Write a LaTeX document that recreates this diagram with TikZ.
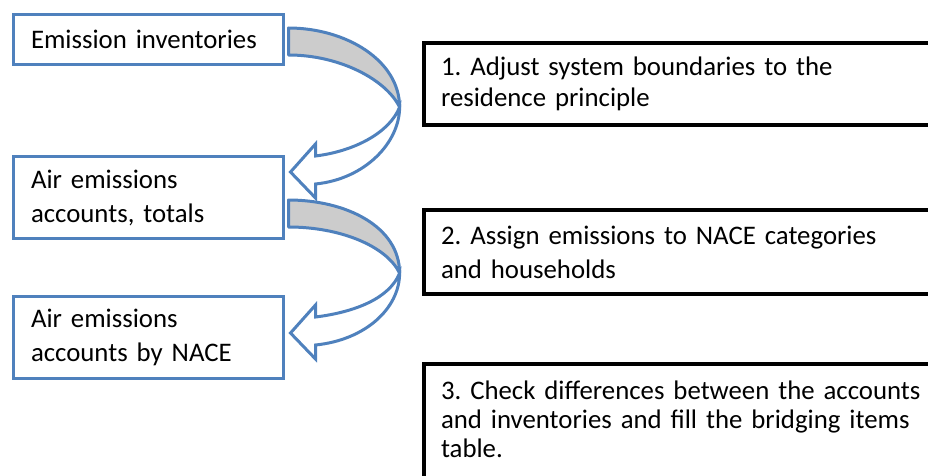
\documentclass[tikz,border=0pt]{standalone}
\usepackage{fontspec}
\setmainfont{Carlito}
\frenchspacing
\usetikzlibrary{calc}
\definecolor{boxblue}{RGB}{79,129,189}
\definecolor{ribbongray}{RGB}{204,204,204}
\tikzset{
  leftbox/.style={draw=boxblue,line width=3pt,fill=white,outer sep=0pt,
    text width=234pt,inner xsep=18pt,align=left,font=\fontsize{26.8}{34}\selectfont},
  stepbox/.style={draw=black,line width=4pt,fill=white,outer sep=0pt,anchor=west,
    text width=500pt,inner xsep=17pt,align=left,font=\fontsize{26.8}{34}\selectfont},
  arrowback/.style={draw=boxblue,line width=3pt,fill=ribbongray,line join=round},
  arrowfront/.style={draw=boxblue,line width=3pt,fill=white,line join=miter}
}
% twisted block arrow: #1 = upper corner of the ribbon start, #2 = tip
\newcommand{\twistarrow}[2]{%
  \coordinate (tw) at ($(#1)!0.55!(#2)+(110,0)$);
  \filldraw[arrowback] (#1) .. controls +(57,0) and +(0,-47) .. (tw)
    .. controls +(-13,-27) and +(52,0) .. ($(#1)+(0,27)$) -- cycle;
  \filldraw[arrowfront] (tw) .. controls +(0,35) and +(50,-5) .. ($(#2)+(25,12)$)
    -- ($(#2)+(25,26)$) -- (#2) -- ($(#2)+(25,-28)$) -- ($(#2)+(25,-16)$)
    .. controls +(40,-5) and +(-10,25) .. (tw) -- cycle;
}
\begin{document}
\begin{tikzpicture}[x=1pt,y=-1pt]
\useasboundingbox (0,0) rectangle (928,476);
% left column
\path[draw] (148,39.5) node[leftbox,minimum height=50pt] (inv) {Emission inventories};
\path[draw] (148,197.5) node[leftbox,minimum height=82pt] (tot) {Air emissions\\accounts, totals};
\path[draw] (148,337.5) node[leftbox,minimum height=82pt] (nace) {Air emissions\\accounts by NACE};
% right column
\path[draw] (424,84) node[stepbox,minimum height=82pt,font=\fontsize{26.8}{31}\selectfont] (stepA) {1. Adjust system boundaries to the\\residence principle};
\path[draw] (424,252) node[stepbox,minimum height=84pt] (stepB) {2. Assign emissions to NACE categories\\and households};
\path[draw] (424,364) node[stepbox,anchor=north west,inner ysep=17pt,font=\fontsize{26.8}{29}\selectfont] (stepC) {3. Check differences between the accounts\\and inventories and fill the bridging items\\table.\rule[-40pt]{0pt}{0pt}};
% arrows
\coordinate (s1) at ($(inv.east)+(5.5,-11.5)$);
\coordinate (t1) at ($(tot.east)+(7.5,-25.5)$);
\coordinate (s2) at ($(tot.east)+(5.5,2.5)$);
\coordinate (t2) at ($(nace.east)+(7.5,-4.5)$);
\twistarrow{s1}{t1}
\twistarrow{s2}{t2}
\end{tikzpicture}
\end{document}
